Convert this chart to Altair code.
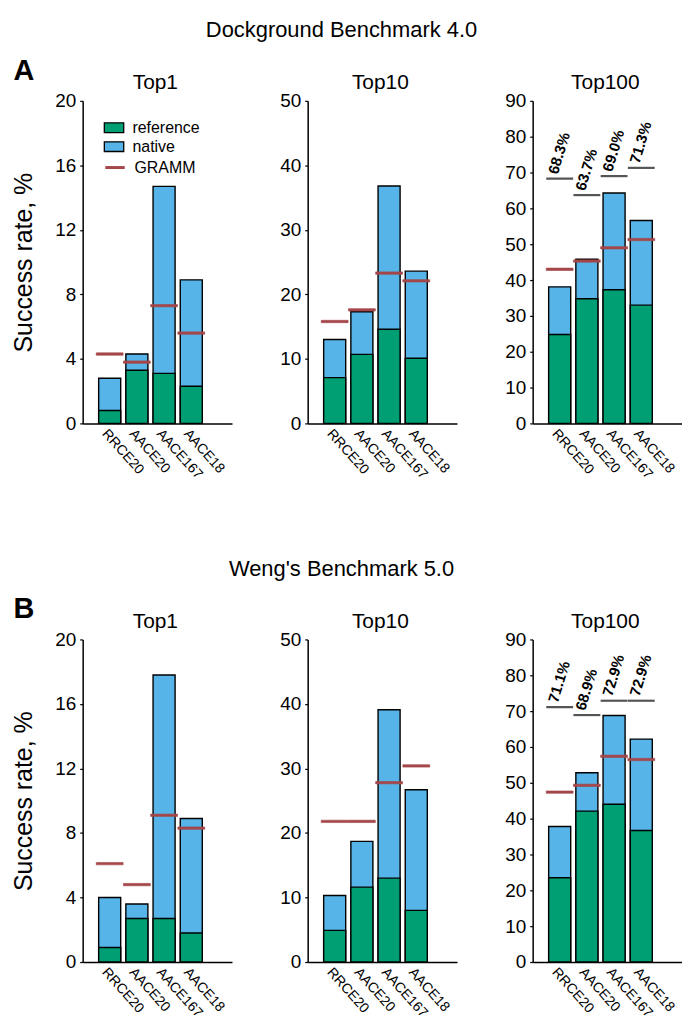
import altair as alt
import pandas as pd

FONT = "Liberation Sans"
GREEN = "#009E73"
BLUE = "#56B4E9"
RED = "#A4474A"
GRAY = "#555555"

cats = ["RRCE20", "AACE20", "AACE167", "AACE18"]

# Dockground Benchmark 4.0
a_top1_ref = [0.8, 3.3, 3.1, 2.3]
a_top1_nat = [2.8, 4.3, 14.7, 8.9]
a_top1_gramm = [4.3, 3.8, 7.3, 5.6]
a_top10_ref = [7.1, 10.7, 14.6, 10.1]
a_top10_nat = [13.0, 17.3, 36.8, 23.6]
a_top10_gramm = [15.8, 17.6, 23.3, 22.1]
a_top100_ref = [24.8, 34.8, 37.3, 33.0]
a_top100_nat = [38.1, 45.8, 64.3, 56.6]
a_top100_gramm = [43.0, 45.3, 49.0, 51.3]
a_top100_pct = [68.3, 63.7, 69.0, 71.3]

# Weng's Benchmark 5.0
b_top1_ref = [0.9, 2.7, 2.7, 1.8]
b_top1_nat = [4.0, 3.6, 17.8, 8.9]
b_top1_gramm = [6.1, 4.8, 9.1, 8.3]
b_top10_ref = [4.9, 11.6, 13.0, 8.0]
b_top10_nat = [10.3, 18.7, 39.1, 26.7]
b_top10_gramm = [21.8, 21.8, 27.8, 30.4]
b_top100_ref = [23.5, 42.1, 44.0, 36.7]
b_top100_nat = [37.8, 52.8, 68.8, 62.2]
b_top100_gramm = [47.4, 49.3, 57.4, 56.5]
b_top100_pct = [71.1, 68.9, 72.9, 72.9]

row_titles = ["Dockground Benchmark 4.0", "Weng's Benchmark 5.0"]
row_letters = ["A", "B"]
panel_titles = ["Top1", "Top10", "Top100"]
y_max = [20, 50, 90]
y_ticks = [[0, 4, 8, 12, 16, 20], [0, 10, 20, 30, 40, 50],
           [0, 10, 20, 30, 40, 50, 60, 70, 80, 90]]

W, H = 150, 324
BAR_DOMAIN = ["reference", "native"]
RECT = "M-1,-0.5H1V0.5H-1Z"


def panel(ref, nat, gramm, k, pct=None, legend=False, ytitle=False,
          row_title=None, letter=None, rt_y=-71, letter_y=-30):
    bars = pd.DataFrame({
        "cat": cats * 2,
        "series": ["native"] * 4 + ["reference"] * 4,
        "value": list(nat) + list(ref),
    })
    gdf = pd.DataFrame({"cat": cats, "series": ["GRAMM"] * 4, "value": gramm})

    xenc = alt.X("cat:N", sort=cats,
                 scale=alt.Scale(domain=cats, paddingInner=0.19,
                                 paddingOuter=0.84, align=0.35),
                 axis=alt.Axis(title=None, labelAngle=48, ticks=False,
                               labelAlign="left", labelBaseline="top",
                               labelFontSize=14, labelPadding=3))
    yscale = alt.Scale(domain=[0, y_max[k]], nice=False, zero=True)
    yaxis = alt.Axis(values=y_ticks[k], grid=False,
                     title="Success rate, %" if ytitle else None,
                     titleFontSize=25, titleFontWeight="normal",
                     titlePadding=18, labelFontSize=19, tickSize=3,
                     labelPadding=4)

    def Y(field):
        return alt.Y(field, scale=yscale, axis=yaxis)

    if legend:
        leg1 = alt.Legend(title=None, orient="none", legendX=21, legendY=16.5,
                          symbolType=RECT, symbolSize=380,
                          symbolStrokeColor="black", symbolStrokeWidth=1.3,
                          labelFontSize=16, labelFont=FONT, labelOffset=8,
                          padding=0, rowPadding=0, labelColor="black")
        leg2 = alt.Legend(title=None, orient="none", legendX=21, legendY=55.5,
                          symbolType="stroke", symbolSize=380,
                          symbolStrokeColor=RED, symbolStrokeWidth=3,
                          symbolOpacity=1,
                          labelFontSize=16, labelFont=FONT, labelOffset=8,
                          padding=0, labelColor="black")
    else:
        leg1 = None
        leg2 = None

    fill_scale = alt.Scale(domain=BAR_DOMAIN, range=[GREEN, BLUE])
    base = alt.Chart(bars)
    nat_layer = base.transform_filter(alt.datum.series == "native").mark_bar(
        stroke="black", strokeWidth=1.4).encode(
        x=xenc, y=Y("value:Q"),
        fill=alt.Fill("series:N", scale=fill_scale, legend=leg1),
    )
    ref_layer = base.transform_filter(alt.datum.series == "reference").mark_bar(
        stroke="black", strokeWidth=1.4).encode(
        x=xenc, y=Y("value:Q"),
        fill=alt.Fill("series:N", scale=fill_scale, legend=leg1),
    )
    gramm_layer = alt.Chart(gdf).mark_tick(
        thickness=2.4, size=27, fill=RED, strokeWidth=0.6, opacity=1).encode(
        x=xenc, y=Y("value:Q"),
        stroke=alt.Stroke("series:N",
                          scale=alt.Scale(domain=["GRAMM"], range=[RED]),
                          legend=leg2),
    )
    layers = [nat_layer, ref_layer, gramm_layer]

    if pct is not None:
        pdf = pd.DataFrame({"cat": cats, "pct": pct,
                            "label": [f"{v:.1f}%" for v in pct]})
        layers.append(alt.Chart(pdf).mark_tick(
            thickness=2.2, size=27, color=GRAY, opacity=1).encode(
            x=xenc, y=Y("pct:Q")))
        layers.append(alt.Chart(pdf).mark_text(
            angle=287, align="left", baseline="bottom", dx=3, fontSize=15,
            fontWeight="bold", font=FONT, color="black").encode(
            x=xenc, y=Y("pct:Q"), text="label:N"))

    # panel title
    ptdf = pd.DataFrame({"t": [panel_titles[k]]})
    layers.append(alt.Chart(ptdf).mark_text(
        fontSize=21, font=FONT, color="black", baseline="alphabetic",
        align="center").encode(text="t:N", x=alt.value(W / 2 - 2),
                               y=alt.value(-12)))

    if row_title is not None:
        tdf = pd.DataFrame({"t": [row_title], "l": [letter]})
        layers.append(alt.Chart(tdf).mark_text(
            fontSize=22, font=FONT, color="black", baseline="middle",
            align="center").encode(
            text="t:N", x=alt.value(260), y=alt.value(rt_y)))
        layers.append(alt.Chart(tdf).mark_text(
            fontSize=29, font=FONT, fontWeight="bold", color="black",
            baseline="middle", align="center").encode(
            text="l:N", x=alt.value(-59), y=alt.value(letter_y)))

    return alt.layer(*layers).properties(width=W, height=H)


panels = [
    panel(a_top1_ref, a_top1_nat, a_top1_gramm, 0, legend=True, ytitle=True,
          row_title=row_titles[0], letter=row_letters[0], rt_y=-71,
          letter_y=-30),
    panel(a_top10_ref, a_top10_nat, a_top10_gramm, 1),
    panel(a_top100_ref, a_top100_nat, a_top100_gramm, 2, pct=a_top100_pct),
    panel(b_top1_ref, b_top1_nat, b_top1_gramm, 0, ytitle=True,
          row_title=row_titles[1], letter=row_letters[1], rt_y=-71,
          letter_y=-31),
    panel(b_top10_ref, b_top10_nat, b_top10_gramm, 1),
    panel(b_top100_ref, b_top100_nat, b_top100_gramm, 2, pct=b_top100_pct),
]

chart = alt.concat(
    *panels, columns=3, bounds="flush",
    spacing=alt.RowColnumber(row=217, column=76),
).resolve_scale(fill="independent", stroke="independent").resolve_legend(
    fill="independent", stroke="independent").properties(
    padding={"left": 3, "top": 9, "right": 0, "bottom": 0}
).configure_view(stroke=None).configure_axis(
    domainColor="black", domainWidth=1.5, tickColor="black", tickWidth=1.2,
    labelColor="black", labelFont=FONT, titleFont=FONT, titleColor="black",
    grid=False,
).configure_title(font=FONT, color="black")

chart.save("out.html", embed_options={"renderer": "svg", "actions": False})
